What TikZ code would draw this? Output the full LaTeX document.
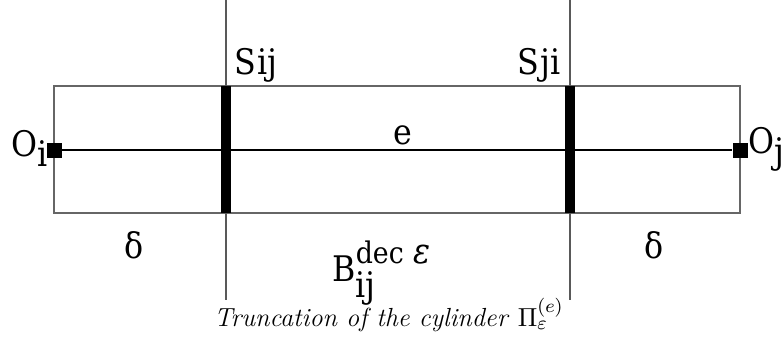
\documentclass[tikz,border=0pt]{standalone}
\usepackage{fontspec}
\newfontfamily\labelfont{DejaVu Serif Condensed}
\usetikzlibrary{positioning}
\tikzset{
  wall/.style={draw=black!60,line width=0.6pt},
  guide/.style={draw=black!65,line width=0.6pt},
  axis/.style={draw=black,line width=0.6pt},
  port/.style={rectangle,fill=black,inner sep=0pt,minimum size=6.3pt},
  section/.style={rectangle,fill=black,inner sep=0pt,minimum width=4pt,minimum height=53.3pt},
  lbl/.style={inner sep=0pt,font=\labelfont\fontsize{14.8}{17}\selectfont}
}

\begin{document}
\begin{tikzpicture}[x=0.42pt,y=-0.42pt]
  \useasboundingbox (0,0) rectangle (782,345);

  % cylinder walls
  \coordinate (cylnw) at (54,86);
  \coordinate (cylse) at (740,213);
  \draw[wall] (cylnw) rectangle (cylse);

  % truncation planes
  \coordinate (sijtop) at (226,0);
  \coordinate (sijbot) at (226,300);
  \coordinate (sjitop) at (570,0);
  \coordinate (sjibot) at (570,300);
  \draw[guide] (sijtop) -- (sijbot);
  \draw[guide] (sjitop) -- (sjibot);
  \node[section] (sij) at (226,149.5) {};
  \node[section] (sji) at (570,149.5) {};

  % axis of the cylinder
  \node[port] (oi) at (54,150) {};
  \node[port] (oj) at (740,150) {};
  \draw[axis] (oi) -- (oj);

  % labels
  \node[lbl,anchor=base west] (oilbl) at (11,156) {O\raisebox{-4.3pt}{i}};
  \node[lbl,anchor=base west] (ojlbl) at (748,153) {O\raisebox{-4.3pt}{j}};
  \node[lbl,anchor=base west] (sijlbl) at (234,74) {S\kern0.5pt ij};
  \node[lbl,anchor=base east] (sjilbl) at (561,74) {S\kern0.5pt ji};
  \node[lbl,anchor=base] (elbl) at (403,144) {e};
  \node[lbl,anchor=base] (dleft) at (134,258) {δ};
  \node[lbl,anchor=base] (dright) at (654,258) {δ};
  \node[lbl,anchor=base west] (blbl) at (332,281)
    {B\rlap{\raisebox{-7pt}{ij}}\raisebox{7.5pt}{{\fontsize{12.5}{15}\selectfont dec} \textit{ε}}};

  % caption
  \node[anchor=base,inner sep=0pt] (caption) at (389,326)
    {\fontsize{11}{13}\selectfont\textit{Truncation of the cylinder} $\Pi_\varepsilon^{(e)}$};
\end{tikzpicture}
\end{document}
